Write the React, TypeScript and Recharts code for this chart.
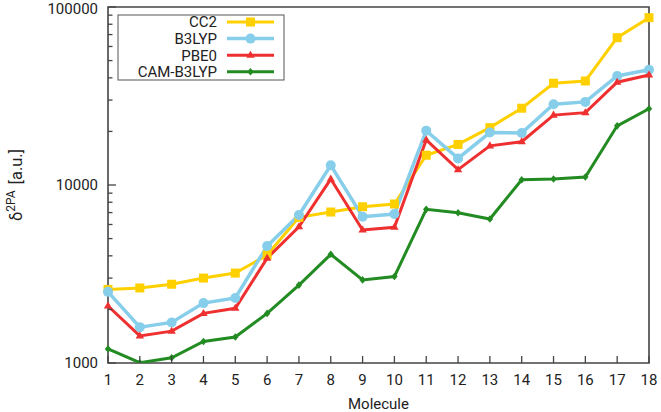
import React from "react";
import { LineChart, Line, XAxis, YAxis, ReferenceArea } from "recharts";

// Two-photon absorption strengths per molecule, by method
const molecules = [1, 2, 3, 4, 5, 6, 7, 8, 9, 10, 11, 12, 13, 14, 15, 16, 17, 18];
const cc2 = [2590, 2640, 2770, 3000, 3200, 4040, 6580, 7050, 7550, 7820, 14700, 16900, 21000, 27000, 37300, 38400, 67200, 87100];
const b3lyp = [2510, 1590, 1690, 2170, 2320, 4540, 6780, 12900, 6640, 6870, 20200, 14100, 19700, 19600, 28400, 29300, 41000, 44400];
const pbe0 = [2090, 1420, 1510, 1900, 2030, 3880, 5830, 10800, 5590, 5790, 17900, 12200, 16600, 17500, 24700, 25500, 37800, 41500];
const camB3lyp = [1200, 1004, 1070, 1320, 1400, 1900, 2740, 4080, 2930, 3060, 7300, 6990, 6440, 10700, 10800, 11100, 21500, 26800];

const yTicks = [
  1000, 2000, 3000, 4000, 5000, 6000, 7000, 8000, 9000,
  10000, 20000, 30000, 40000, 50000, 60000, 70000, 80000, 90000,
  100000,
];
const yMajor = [1000, 10000, 100000];

const FONT = "Roboto, 'DejaVu Sans', sans-serif";
const AXIS = "#444444";
const TEXT = "#222222";

type Marker = "square" | "circle" | "triangle" | "diamond";

const series: { key: string; name: string; color: string; width: number; marker: Marker; values: number[] }[] = [
  { key: "cc2", name: "CC2", color: "#FFD000", width: 3, marker: "square", values: cc2 },
  { key: "b3lyp", name: "B3LYP", color: "#87CEEB", width: 3.5, marker: "circle", values: b3lyp },
  { key: "pbe0", name: "PBE0", color: "#EE3030", width: 3, marker: "triangle", values: pbe0 },
  { key: "cam", name: "CAM-B3LYP", color: "#228B22", width: 3, marker: "diamond", values: camB3lyp },
];

const data = molecules.map((m, i) => {
  const row: Record<string, number> = { molecule: m };
  series.forEach((s) => {
    row[s.key] = s.values[i];
  });
  return row;
});

function markerShape(kind: Marker, cx: number, cy: number, color: string, key?: string) {
  switch (kind) {
    case "square":
      return <rect key={key} x={cx - 4.5} y={cy - 4.5} width={9} height={9} fill={color} />;
    case "circle":
      return <circle key={key} cx={cx} cy={cy} r={5} fill={color} />;
    case "triangle":
      return <polygon key={key} points={`${cx},${cy - 4.5} ${cx + 4.2},${cy + 2.6} ${cx - 4.2},${cy + 2.6}`} fill={color} />;
    case "diamond":
    default:
      return <polygon key={key} points={`${cx},${cy - 3.8} ${cx + 3.2},${cy} ${cx},${cy + 3.8} ${cx - 3.2},${cy}`} fill={color} />;
  }
}

const makeDot = (kind: Marker, color: string) => (props: any) => {
  const { cx, cy, index } = props;
  if (cx == null || cy == null) return <g key={`d-${index}`} />;
  return markerShape(kind, cx, cy, color, `d-${index}`);
};

const YTick = (props: any) => {
  const { x, y, payload } = props;
  const v = payload.value as number;
  const major = yMajor.includes(v);
  // the topmost label sits against the chart's upper edge, keep it inside
  const shift = v === 100000 ? 2 : 0;
  return (
    <g>
      <line x1={x} x2={x + (major ? 8 : 4.5)} y1={y} y2={y} stroke={AXIS} strokeWidth={1.3} />
      {major && (
        <text x={x - 10} y={y + shift} dy="0.36em" textAnchor="end" fontFamily={FONT} fontSize={15} fill={TEXT}>
          {v}
        </text>
      )}
    </g>
  );
};

const XTick = (props: any) => {
  const { x, y, payload } = props;
  return (
    <g>
      <line x1={x} x2={x} y1={y} y2={y - 7} stroke={AXIS} strokeWidth={1.3} />
      <text x={x} y={y + 22} textAnchor="middle" fontFamily={FONT} fontSize={15} fill={TEXT}>
        {payload.value}
      </text>
    </g>
  );
};

const YLabel = (props: any) => {
  const vb = props.viewBox || { x: 0, y: 0, width: 0, height: 0 };
  const cx = 22;
  const cy = vb.y + vb.height / 2;
  return (
    <text
      x={cx}
      y={cy}
      transform={`rotate(-90, ${cx}, ${cy})`}
      textAnchor="middle"
      fontFamily={FONT}
      fontSize={16.5}
      fill={TEXT}
    >
      <tspan>δ</tspan>
      <tspan dy={-7} fontSize={12}>2PA</tspan>
      <tspan dy={7} dx={6}>[a.u.]</tspan>
    </text>
  );
};

// Legend box in the upper-left corner of the plot
const LegendBox = () => (
  <svg
    width={168}
    height={68}
    style={{ position: "absolute", left: 117, top: 14, overflow: "visible" }}
  >
    <rect x={1} y={1} width={166} height={65} fill="#fff" stroke="#555" strokeWidth={1} />
    {series.map((s, i) => {
      const cy = 8 + i * 16.6;
      return (
        <g key={s.key}>
          <text x={100} y={cy} dy="0.36em" textAnchor="end" fontFamily={FONT} fontSize={15} fill={TEXT}>
            {s.name}
          </text>
          <line x1={110} x2={157} y1={cy} y2={cy} stroke={s.color} strokeWidth={s.width} />
          {markerShape(s.marker, 133.5, cy, s.color)}
        </g>
      );
    })}
  </svg>
);

export default function App() {
  return (
    <div style={{ position: "absolute", left: 0, top: 0, width: 661, height: 412, background: "#fff" }}>
      <LineChart width={661} height={412} data={data} margin={{ top: 7, right: 12, bottom: 0, left: 0 }}>
        <XAxis
          dataKey="molecule"
          type="number"
          domain={[1, 18]}
          ticks={molecules}
          interval={0}
          height={49}
          axisLine={false}
          tickLine={false}
          tickSize={0}
          tickMargin={0}
          tick={<XTick />}
          label={{
            value: "Molecule",
            position: "insideBottom",
            offset: 3,
            fontFamily: FONT,
            fontSize: 15,
            fill: TEXT,
          }}
        />
        <YAxis
          scale="log"
          type="number"
          domain={[1000, 100000]}
          allowDataOverflow
          ticks={yTicks}
          interval={0}
          width={108}
          axisLine={false}
          tickLine={false}
          tickSize={0}
          tickMargin={0}
          tick={<YTick />}
          label={{ content: (p: any) => <YLabel {...p} /> }}
        />
        <ReferenceArea
          x1={1}
          x2={18}
          y1={1000}
          y2={100000}
          fill="none"
          fillOpacity={0}
          stroke={AXIS}
          strokeWidth={1.6}
          ifOverflow="visible"
        />
        {series.map((s) => (
          <Line
            key={s.key}
            dataKey={s.key}
            name={s.name}
            stroke={s.color}
            strokeWidth={s.width}
            type="linear"
            dot={makeDot(s.marker, s.color)}
            activeDot={false}
            isAnimationActive={false}
          />
        ))}
      </LineChart>
      <LegendBox />
    </div>
  );
}
